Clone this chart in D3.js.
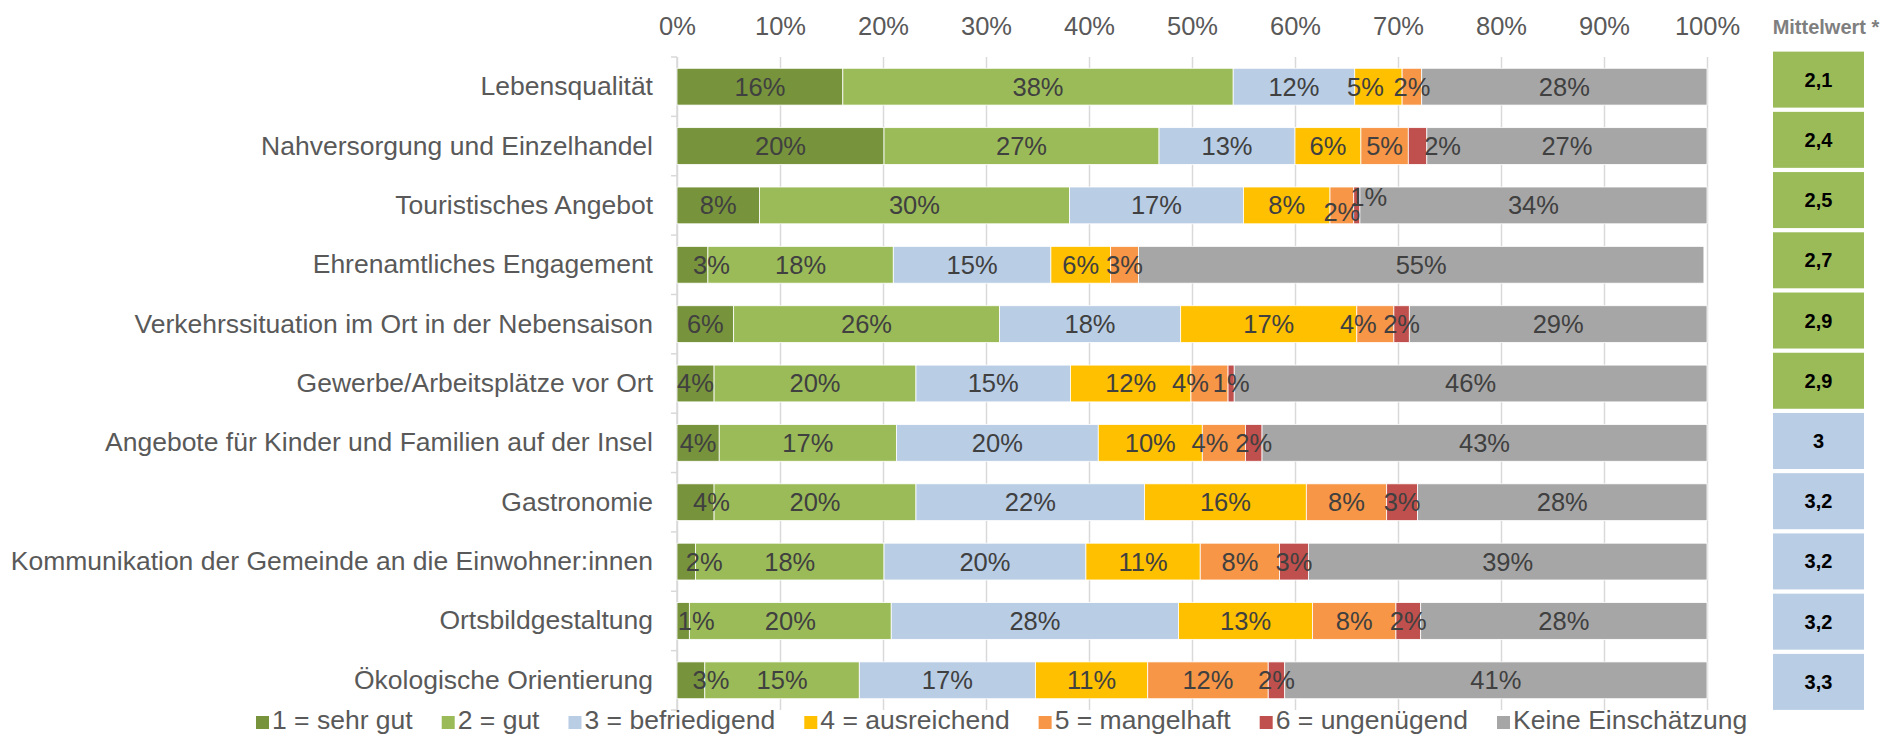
<!DOCTYPE html>
<html>
<head>
<meta charset="utf-8">
<script src="https://cdn.jsdelivr.net/npm/d3@7"></script>
<style>
  body { margin: 0; background: #fff; }
  svg text { font-family: "Liberation Sans", Arial, sans-serif; }
</style>
</head>
<body>
<div id="chart"></div>
<script>

// categories (top to bottom)
var categories = [
    "Lebensqualität",
    "Nahversorgung und Einzelhandel",
    "Touristisches Angebot",
    "Ehrenamtliches Engagement",
    "Verkehrssituation im Ort in der Nebensaison",
    "Gewerbe/Arbeitsplätze vor Ort",
    "Angebote für Kinder und Familien auf der Insel",
    "Gastronomie",
    "Kommunikation der Gemeinde an die Einwohner:innen",
    "Ortsbildgestaltung",
    "Ökologische Orientierung"
];

var seriesNames = ["1 = sehr gut", "2 = gut", "3 = befriedigend", "4 = ausreichend",
    "5 = mangelhaft", "6 = ungenügend", "Keine Einschätzung"];

// shares in percent
var sehrGut            = [16.1, 20.1,  8.0,  3.0,  5.5,  3.6,  4.1,  3.6,  1.8,  1.2,  2.7];
var gut                = [37.9, 26.7, 30.1, 18.0, 25.8, 19.6, 17.2, 19.6, 18.3, 19.6, 15.0];
var befriedigend       = [11.8, 13.2, 16.9, 15.3, 17.6, 15.0, 19.6, 22.2, 19.6, 27.9, 17.1];
var ausreichend        = [ 4.6,  6.4,  8.4,  5.8, 17.1, 11.7, 10.1, 15.7, 11.1, 13.0, 10.9];
var mangelhaft         = [ 1.9,  4.6,  2.3,  2.7,  3.6,  3.6,  4.2,  7.8,  7.7,  8.1, 11.7];
var ungenuegend        = [ 0.0,  1.8,  0.6,  0.0,  1.5,  0.6,  1.6,  3.0,  2.8,  2.4,  1.6];
var keineEinschaetzung = [27.7, 27.2, 33.7, 54.9, 28.9, 45.9, 43.2, 28.1, 38.7, 27.8, 41.0];

var mittelwert = ["2,1", "2,4", "2,5", "2,7", "2,9", "2,9", "3", "3,2", "3,2", "3,2", "3,3"];

var xTicks = [0, 10, 20, 30, 40, 50, 60, 70, 80, 90, 100];


StackedBarChart = function(_parentElement){
    this.parentElement = _parentElement;
    this.displayData = [];

    this.initVis();
}

StackedBarChart.prototype.initVis = function(){
    var vis = this;

    vis.width = 1886;
    vis.height = 735;

    vis.svg = d3.select("#" + vis.parentElement).append("svg")
        .attr("width", vis.width)
        .attr("height", vis.height);

    vis.colors = ["#77933C", "#9BBB59", "#B9CDE5", "#FFC000", "#F79646", "#C0504D", "#A6A6A6"];

    // Excel moved a few labels to avoid overlaps
    vis.nudge = {
        "0-3": [-13, 0], "1-5": [25, 0], "2-4": [0, 7], "2-5": [12, -8],
        "3-0": [19, 0], "4-4": [-17, 0], "5-4": [-19, 0], "6-4": [-14, 0],
        "7-0": [16, 0], "8-0": [18, 0], "9-0": [13, 0], "10-0": [20, 0]
    };

    vis.x = d3.scaleLinear()
        .domain([0, 100])
        .range([677, 1707]);

    vis.y = d3.scaleBand()
        .domain(categories)
        .range([57, 710])
        .paddingInner(0.38)
        .paddingOuter(0.19);

    vis.yBox = d3.scaleBand()
        .domain(categories)
        .range([49.5, 712])
        .paddingInner(0.07)
        .paddingOuter(0.035);

    vis.xAxis = d3.axisTop(vis.x)
        .tickValues(xTicks)
        .tickFormat(function(d) { return d + "%"; })
        .tickSize(-(710 - 57))
        .tickPadding(22);

    vis.yAxis = d3.axisLeft(vis.y)
        .tickSize(0)
        .tickPadding(24);

    vis.wrangleData();
}

StackedBarChart.prototype.wrangleData = function(){
    var vis = this;

    var cols = [sehrGut, gut, befriedigend, ausreichend, mangelhaft, ungenuegend, keineEinschaetzung];

    vis.displayData = categories.map(function(c, i) {
        var x0 = 0;
        return {
            category: c,
            index: i,
            segments: cols.map(function(col, s) {
                var seg = {series: s, start: x0, value: col[i]};
                x0 += col[i];
                return seg;
            })
        };
    });

    vis.updateVis();
}

StackedBarChart.prototype.updateVis = function(){
    var vis = this;

    // grid + percent labels
    var gx = vis.svg.append("g")
        .attr("class", "x-axis axis")
        .attr("transform", "translate(0,57)")
        .call(vis.xAxis);
    gx.select(".domain").remove();
    gx.selectAll("line").attr("stroke", "#D9D9D9").attr("stroke-width", 1.5);
    gx.selectAll("text")
        .attr("fill", "#595959")
        .style("font-size", "25.5px");

    // category axis line with boundary ticks
    var step = vis.y.step();
    var bounds = d3.range(categories.length + 1).map(function(i) { return 57 + i * step; });
    vis.svg.append("line")
        .attr("x1", vis.x(0)).attr("x2", vis.x(0))
        .attr("y1", 57).attr("y2", 710)
        .attr("stroke", "#D9D9D9").attr("stroke-width", 1.5);
    vis.svg.selectAll(".ytick")
        .data(bounds)
        .enter().append("line")
        .attr("class", "ytick")
        .attr("x1", vis.x(0) - 6).attr("x2", vis.x(0))
        .attr("y1", function(d) { return d; }).attr("y2", function(d) { return d; })
        .attr("stroke", "#D9D9D9").attr("stroke-width", 1.5);

    var gy = vis.svg.append("g")
        .attr("class", "y-axis axis")
        .attr("transform", "translate(" + vis.x(0) + ",0)")
        .call(vis.yAxis);
    gy.select(".domain").remove();
    gy.selectAll("text")
        .attr("fill", "#595959")
        .style("font-size", "26.5px");

    // bars
    var rows = vis.svg.selectAll(".row")
        .data(vis.displayData)
        .enter().append("g")
        .attr("class", "row")
        .attr("transform", function(d) { return "translate(0," + vis.y(d.category) + ")"; });

    rows.selectAll(".bar")
        .data(function(d) { return d.segments.filter(function(s) { return s.value > 0; }); })
        .enter().append("rect")
        .attr("class", "bar")
        .attr("x", function(d) { return vis.x(d.start); })
        .attr("width", function(d) { return vis.x(d.start + d.value) - vis.x(d.start); })
        .attr("height", vis.y.bandwidth())
        .attr("fill", function(d) { return vis.colors[d.series]; })
        .attr("stroke", "#fff")
        .attr("stroke-width", 0.8);

    rows.selectAll(".lbl")
        .data(function(r) {
            return r.segments.filter(function(s) { return s.value > 0; })
                .map(function(s) { s.row = r.index; return s; });
        })
        .enter().append("text")
        .attr("class", "lbl")
        .attr("x", function(d) {
            var n = vis.nudge[d.row + "-" + d.series];
            return vis.x(d.start + d.value / 2) + (n ? n[0] : 0);
        })
        .attr("y", function(d) {
            var n = vis.nudge[d.row + "-" + d.series];
            return vis.y.bandwidth() / 2 + (n ? n[1] : 0);
        })
        .attr("dy", "0.35em")
        .attr("text-anchor", "middle")
        .attr("fill", "#404040")
        .style("font-size", "25.5px")
        .text(function(d) { return Math.round(d.value) + "%"; });

    // Mittelwert column
    vis.svg.append("text")
        .attr("x", 1826)
        .attr("y", 34)
        .attr("text-anchor", "middle")
        .attr("fill", "#7F7F7F")
        .style("font-size", "20px")
        .style("font-weight", "bold")
        .text("Mittelwert *");

    var boxes = vis.svg.selectAll(".box")
        .data(vis.displayData)
        .enter().append("g")
        .attr("class", "box")
        .attr("transform", function(d) { return "translate(1773," + vis.yBox(d.category) + ")"; });

    boxes.append("rect")
        .attr("width", 91)
        .attr("height", vis.yBox.bandwidth())
        .attr("fill", function(d) {
            return parseFloat(mittelwert[d.index].replace(",", ".")) < 3 ? "#9BBB59" : "#B9CDE5";
        });

    boxes.append("text")
        .attr("x", 45.5)
        .attr("y", vis.yBox.bandwidth() / 2)
        .attr("dy", "0.35em")
        .attr("text-anchor", "middle")
        .attr("fill", "#000")
        .style("font-size", "20px")
        .style("font-weight", "bold")
        .text(function(d) { return mittelwert[d.index]; });

    // legend
    var legend = vis.svg.append("g").attr("class", "legend");
    var lx = 256;
    seriesNames.forEach(function(name, i) {
        legend.append("rect")
            .attr("x", lx).attr("y", 716)
            .attr("width", 13).attr("height", 13)
            .attr("fill", vis.colors[i]);
        var t = legend.append("text")
            .attr("x", lx + 16).attr("y", 729)
            .attr("fill", "#595959")
            .style("font-size", "26.5px")
            .text(name);
        lx += 16 + t.node().getComputedTextLength() + 29;
    });
}

new StackedBarChart("chart");

</script>
</body>
</html>
